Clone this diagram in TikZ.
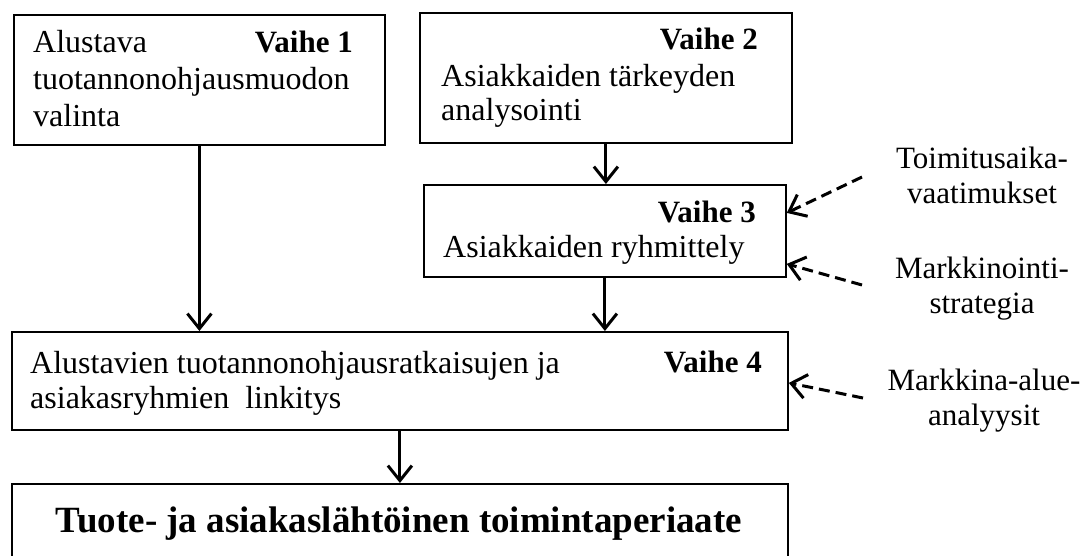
\documentclass[tikz,border=0pt]{standalone}
\usepackage{fontspec}
\setmainfont{Liberation Serif}
\usetikzlibrary{arrows.meta}
\begin{document}
\begin{tikzpicture}[x=1pt,y=-1pt,
  box/.style={draw, line width=1.8pt, anchor=north west, inner sep=0pt},
  txt/.style={anchor=base west, align=left, inner sep=0pt, font=\fontsize{32}{35}\selectfont},
  phase/.style={anchor=base east, inner sep=0pt, font=\fontsize{31}{35}\selectfont\bfseries},
  side/.style={anchor=base, align=center, inner sep=0pt, font=\fontsize{31}{35}\selectfont},
  flow/.style={line width=3pt, -{Straight Barb[length=15pt,width=24pt]}},
  input/.style={flow, dash pattern=on 11pt off 6pt}]
\useasboundingbox (0,0) rectangle (1085,556);
\clip (0,0) rectangle (1085,556);

% phase boxes
\node[box, minimum width=371pt, minimum height=130pt] (b1) at (13,14) {};
\node[box, minimum width=372pt, minimum height=130pt] (b2) at (419,12) {};
\node[box, minimum width=362pt, minimum height=92pt]  (b3) at (423,184) {};
\node[box, minimum width=776pt, minimum height=98pt]  (b4) at (11,331) {};
\node[box, minimum width=776pt, minimum height=100pt] (b5) at (11,483) {};

% box texts (a multi-line node sits on the baseline of its last line)
\node[txt, font=\fontsize{32}{37}\selectfont] (t1) at (33,127) {Alustava\\tuotannonohjausmuodon\\valinta};
\node[phase] (p1) at (353,53) {Vaihe 1};
\node[phase] (p2) at (758,50) {Vaihe 2};
\node[txt, font=\fontsize{32}{34}\selectfont] (t2) at (441,121) {Asiakkaiden tärkeyden\\analysointi};
\node[phase] (p3) at (756,223) {Vaihe 3};
\node[txt] (t3) at (443,258) {Asiakkaiden ryhmittely};
\node[txt] (t4) at (30,408) {Alustavien tuotannonohjausratkaisujen ja\\asiakasryhmien\ \ linkitys};
\node[phase] (p4) at (762,372) {Vaihe 4};
\node[anchor=base, inner sep=0pt, font=\fontsize{37}{40}\selectfont\bfseries] (t5) at (399,532)
  {Tuote- ja asiakaslähtöinen toimintaperiaate};

% inputs on the right
\node[side] (s1) at (982,204) {Toimitusaika-\\vaatimukset};
\node[side] (s2) at (982,313) {Markkinointi-\\strategia};
\node[side] (s3) at (984,425) {Markkina-alue-\\analyysit};
\coordinate (c1) at (862,177);
\coordinate (c2) at (862,285);
\coordinate (c3) at (863,398);

% flow between phases
\draw[flow] (b1.south) -- (b1.south |- b4.north);
\draw[flow] (b2.south) -- (b2.south |- b3.north);
\draw[flow] (b3.south) -- (b3.south |- b4.north);
\draw[flow] (b4.south) -- (b4.south |- b5.north);

% dashed inputs
\draw[input] (c1) -- ([yshift=18pt]b3.east);
\draw[input] (c2) -- ([yshift=-33pt]b3.east);
\draw[input] (c3) -- ([yshift=-2pt]b4.east);
\end{tikzpicture}
\end{document}
